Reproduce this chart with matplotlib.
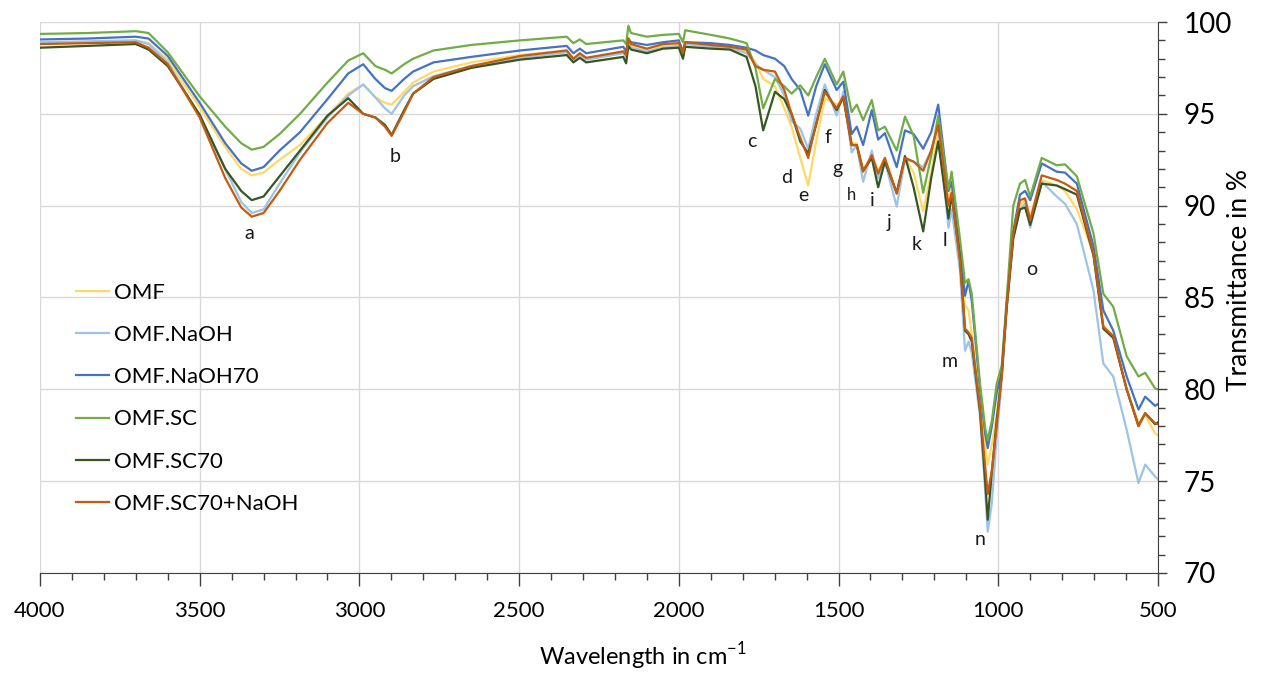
import numpy as np
import matplotlib
matplotlib.use('Agg')
import matplotlib.pyplot as plt
from matplotlib.ticker import MultipleLocator

plt.rcParams['font.family'] = ['Lato', 'DejaVu Sans']

# wavenumber keypoints (cm-1)
wavenumber = [4000, 3850, 3700, 3660, 3600, 3500, 3420, 3370, 3337, 3300,
              3250, 3186, 3100, 3035, 2988, 2950, 2920, 2899, 2860, 2832,
              2768, 2650, 2497, 2351, 2330, 2310, 2290, 2174, 2165, 2158,
              2150, 2100, 2049, 2000, 1987, 1980, 1900, 1840, 1788, 1760,
              1736, 1699, 1670, 1647, 1620, 1595, 1570, 1543, 1506, 1485,
              1459, 1443, 1423, 1396, 1376, 1355, 1318, 1292, 1265, 1235,
              1210, 1188, 1156, 1146, 1120, 1104, 1093, 1083, 1057, 1041,
              1033, 1020, 1005, 989, 974, 953, 932, 916, 900, 864,
              817, 791, 754, 702, 671, 640, 598, 561, 540, 509, 500]

omf = [98.85, 98.9, 99.0, 98.85, 97.95, 95.35, 93.2, 92.0, 91.65, 91.8,
       92.5, 93.3, 94.9, 96.1, 96.6, 95.9, 95.6, 95.5, 96.2, 96.7,
       97.3, 97.8, 98.2, 98.45, 98.0, 98.3, 98.0, 98.4, 98.2, 99.0,
       98.7, 98.5, 98.7, 98.8, 98.2, 98.85, 98.7, 98.65, 98.4, 97.8,
       96.9, 96.5, 95.3, 94.3, 92.6, 91.1, 93.5, 95.85, 95.5, 95.7,
       93.4, 93.4, 92.0, 92.7, 91.9, 92.6, 90.7, 92.6, 91.8, 89.7,
       91.8, 94.1, 90.3, 91.0, 87.5, 84.6, 84.3, 83.0, 79.2, 76.9,
       75.9, 77.0, 78.6, 81.0, 84.5, 88.4, 90.0, 90.3, 89.4, 91.4,
       91.1, 90.8, 89.8, 87.4, 83.5, 82.9, 80.0, 78.2, 78.6, 77.6, 77.5]

omf_naoh = [98.9, 98.95, 99.0, 98.8, 97.8, 94.9, 92.0, 90.2, 89.6, 89.8,
            91.2, 92.9, 94.8, 96.0, 96.6, 95.9, 95.3, 95.0, 96.0, 96.5,
            97.05, 97.6, 98.05, 98.35, 97.9, 98.2, 97.95, 98.3, 98.1, 98.9,
            98.6, 98.4, 98.6, 98.7, 98.2, 98.8, 98.65, 98.6, 98.3, 97.7,
            97.4, 97.0, 96.0, 94.6, 94.2, 93.1, 95.0, 96.6, 94.9, 96.2,
            92.9, 93.3, 91.3, 93.0, 91.5, 92.4, 89.95, 92.5, 92.4, 92.1,
            93.0, 94.4, 88.8, 89.8, 86.5, 82.1, 82.6, 82.0, 78.5, 74.5,
            72.25, 73.8, 77.4, 80.5, 84.2, 88.3, 89.8, 90.1, 88.8, 91.3,
            90.5, 90.1, 89.0, 85.4, 81.4, 80.7, 77.8, 74.9, 75.9, 75.25, 75.1]

omf_naoh70 = [99.05, 99.1, 99.2, 99.1, 98.15, 95.6, 93.4, 92.3, 91.9, 92.1,
              93.0, 94.0, 95.8, 97.2, 97.7, 96.9, 96.4, 96.25, 96.9, 97.3,
              97.8, 98.1, 98.45, 98.7, 98.3, 98.55, 98.3, 98.65, 98.4, 99.1,
              98.9, 98.75, 98.9, 99.0, 98.4, 98.9, 98.85, 98.75, 98.6, 98.45,
              98.2, 98.0, 97.6, 96.9, 96.3, 94.9, 96.5, 97.7, 96.3, 96.75,
              93.9, 94.3, 93.3, 95.2, 93.6, 93.95, 92.1, 94.1, 93.9, 93.1,
              94.0, 95.5, 90.8, 91.3, 87.5, 85.1, 85.9, 84.8, 80.0, 77.6,
              76.8, 78.0, 79.8, 81.0, 84.6, 88.6, 90.6, 90.8, 90.3, 92.3,
              91.85, 91.8, 91.2, 87.8, 84.3, 83.2, 80.7, 78.9, 79.6, 79.1, 79.2]

omf_sc = [99.35, 99.4, 99.5, 99.4, 98.35, 95.95, 94.3, 93.4, 93.05, 93.2,
          93.9, 95.0, 96.7, 97.9, 98.3, 97.6, 97.4, 97.2, 97.7, 98.0,
          98.45, 98.75, 99.0, 99.2, 98.85, 99.05, 98.8, 99.0, 98.8, 99.8,
          99.4, 99.2, 99.3, 99.35, 98.9, 99.55, 99.3, 99.1, 98.85, 97.5,
          95.3, 96.9, 96.5, 96.1, 96.55, 96.0, 97.0, 98.0, 96.6, 97.3,
          95.1, 95.5, 94.65, 95.75, 94.1, 94.3, 93.0, 94.85, 93.8, 90.7,
          92.7, 94.9, 90.9, 91.85, 88.2, 85.8, 86.0, 85.2, 80.3, 77.9,
          77.25, 78.3, 80.3, 81.3, 84.8, 90.0, 91.2, 91.4, 90.5, 92.6,
          92.2, 92.25, 91.6, 88.5, 85.2, 84.5, 81.8, 80.7, 80.9, 80.05, 80.0]

omf_sc70 = [98.6, 98.7, 98.8, 98.5, 97.6, 94.95, 92.0, 90.8, 90.3, 90.5,
            91.6, 93.0, 94.9, 95.85, 95.0, 94.8, 94.4, 93.85, 95.2, 96.1,
            96.9, 97.5, 97.95, 98.2, 97.8, 98.05, 97.8, 98.1, 97.75, 98.7,
            98.5, 98.3, 98.55, 98.6, 98.0, 98.65, 98.55, 98.5, 98.1, 96.5,
            94.1, 96.2, 95.8, 95.0, 93.5, 92.85, 94.4, 96.3, 95.2, 95.9,
            93.3, 93.3, 91.9, 92.6, 91.0, 92.4, 90.7, 92.7, 91.0, 88.6,
            91.5, 93.5, 89.3, 90.6, 87.2, 83.2, 83.0, 82.6, 78.8, 75.0,
            72.9, 75.5, 78.3, 80.8, 84.4, 88.2, 89.8, 89.9, 88.95, 91.2,
            91.1, 90.9, 90.6, 87.3, 83.3, 82.8, 80.0, 78.0, 78.7, 78.1, 78.2]

omf_sc70_naoh = [98.8, 98.85, 98.9, 98.6, 97.7, 94.8, 91.5, 89.9, 89.4, 89.6,
                 90.8, 92.5, 94.5, 95.6, 95.0, 94.8, 94.3, 93.8, 95.1, 96.1,
                 97.0, 97.6, 98.15, 98.45, 98.0, 98.3, 98.05, 98.4, 98.2, 99.1,
                 98.8, 98.55, 98.8, 98.85, 98.3, 98.9, 98.75, 98.65, 98.5, 97.6,
                 97.4, 97.3, 96.3, 95.0, 93.7, 92.6, 94.5, 96.2, 95.3, 95.95,
                 93.3, 93.3, 91.85, 92.75, 91.75, 92.6, 90.65, 92.6, 92.4, 91.9,
                 93.0, 94.4, 90.0, 90.7, 87.0, 83.3, 83.1, 82.8, 78.9, 75.8,
                 74.3, 75.6, 78.0, 80.8, 84.5, 88.5, 90.3, 90.4, 89.2, 91.65,
                 91.4, 91.2, 90.8, 87.4, 83.4, 82.9, 80.0, 78.0, 78.7, 78.15, 78.1]

series_names = ['OMF', 'OMF.NaOH', 'OMF.NaOH70', 'OMF.SC', 'OMF.SC70', 'OMF.SC70+NaOH']
series_colors = ['#FFD966', '#9DC3E6', '#4472C4', '#70AD47', '#375623', '#C55A11']
series_values = [omf, omf_naoh, omf_naoh70, omf_sc, omf_sc70, omf_sc70_naoh]

# band labels and where they sit (wavenumber, transmittance)
band_labels = ['a', 'b', 'c', 'd', 'e', 'f', 'g', 'h', 'i', 'j', 'k', 'l', 'm', 'n', 'o']
band_x = [3346, 2889, 1771, 1661, 1611, 1533, 1502, 1458, 1395, 1342, 1257, 1167, 1151, 1057, 894]
band_y = [88.5, 92.65, 93.5, 91.55, 90.55, 93.7, 92.0, 90.6, 90.3, 89.1, 87.9, 88.1, 81.5, 71.8, 86.5]

fig = plt.figure(figsize=(12.61, 6.73), dpi=100)
ax = fig.add_axes([0.0317, 0.1486, 0.8866, 0.8187])

for name, col, vals in zip(series_names, series_colors, series_values):
    ax.plot(wavenumber, vals, color=col, lw=1.6, label=name)

for lab, bx, by in zip(band_labels, band_x, band_y):
    fs = 12 if lab == 'h' else 14
    ax.text(bx, by, lab, ha='center', va='center', fontsize=fs, color='#1a1a1a')

ax.set_xlim(4000, 500)
ax.set_ylim(70, 100)
ax.xaxis.set_major_locator(MultipleLocator(500))
ax.xaxis.set_minor_locator(MultipleLocator(100))
ax.yaxis.set_major_locator(MultipleLocator(5))
ax.yaxis.set_minor_locator(MultipleLocator(1))
ax.yaxis.tick_right()
ax.yaxis.set_label_position('right')

ax.grid(True, which='major', color='#d9d9d9', lw=1)
ax.set_axisbelow(True)
for s in ['top', 'left']:
    ax.spines[s].set_visible(False)
ax.spines['bottom'].set_color('#404040')
ax.spines['right'].set_color('#404040')

ax.tick_params(axis='x', which='major', direction='out', length=9, width=1, labelsize=16, pad=11, color='#404040')
ax.tick_params(axis='x', which='minor', direction='out', length=5, width=1, color='#404040')
ax.tick_params(axis='y', which='major', direction='out', length=6.5, width=1, labelsize=20, pad=12, color='#404040')
ax.tick_params(axis='y', which='minor', direction='out', length=5, width=1, color='#404040')

ax.set_xlabel('Wavelength in cm$^{\\mathregular{-1}}$', fontsize=17)
ax.xaxis.set_label_coords(0.539, -0.122)
ax.set_ylabel('Transmittance in %', fontsize=19)
ax.yaxis.set_label_coords(1.062, 0.532)

ax.legend(loc='upper left', bbox_to_anchor=(0.032, 0.527), frameon=False, fontsize=16,
          borderpad=0, borderaxespad=0, labelspacing=1.0, handlelength=1.5, handletextpad=0.2)

fig.savefig('out.png', dpi=100)
